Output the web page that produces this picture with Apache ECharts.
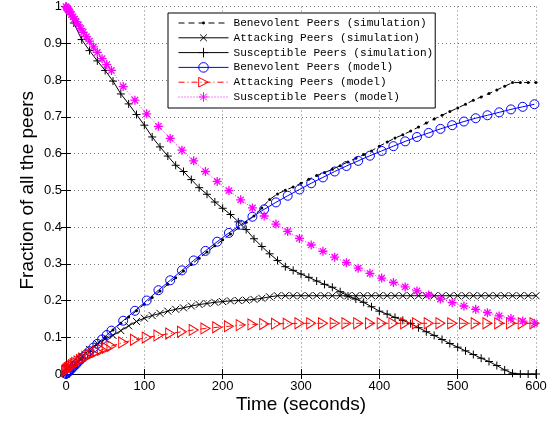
<!DOCTYPE html>
<html>
<head>
<meta charset="utf-8">
<script src="https://cdn.jsdelivr.net/npm/echarts@6/dist/echarts.min.js"></script>
<style>html,body{margin:0;padding:0;background:#fff;}#c{width:556px;height:424px;}</style>
</head>
<body>
<div id="c"></div>
<script>
// ---- data ----
const simTime = [0,10,20,30,40,50,60,70,80,90,100,110,120,130,140,150,160,170,180,190,200,210,220,230,240,250,260,270,280,290,300,310,320,330,340,350,360,370,380,390,400,410,420,430,440,450,460,470,480,490,500,510,520,530,540,550,560,570,580,590,600];
const benevSim = [0,0.02,0.04,0.06,0.08,0.10,0.12,0.138,0.155,0.172,0.19,0.208,0.226,0.244,0.262,0.28,0.298,0.315,0.332,0.349,0.365,0.381,0.397,0.413,0.43,0.452,0.475,0.49,0.50,0.509,0.519,0.53,0.54,0.548,0.557,0.567,0.577,0.587,0.597,0.607,0.62,0.631,0.642,0.651,0.661,0.672,0.683,0.694,0.704,0.714,0.724,0.734,0.745,0.754,0.763,0.773,0.783,0.793,0.793,0.793,0.793];
const attackSim = [0,0.025,0.047,0.067,0.083,0.095,0.105,0.118,0.131,0.143,0.152,0.159,0.165,0.171,0.176,0.18,0.185,0.189,0.192,0.195,0.197,0.199,0.2,0.201,0.203,0.206,0.21,0.213,0.213,0.213,0.213,0.213,0.213,0.213,0.213,0.213,0.213,0.213,0.213,0.213,0.213,0.213,0.213,0.213,0.213,0.213,0.213,0.213,0.213,0.213,0.213,0.213,0.213,0.213,0.213,0.213,0.213,0.213,0.213,0.213,0.213];
const suscSim = [1.0,0.955,0.91,0.88,0.852,0.826,0.797,0.762,0.735,0.706,0.677,0.645,0.618,0.593,0.568,0.551,0.529,0.507,0.489,0.468,0.451,0.434,0.414,0.393,0.368,0.347,0.327,0.309,0.292,0.282,0.272,0.263,0.253,0.244,0.236,0.224,0.212,0.204,0.195,0.183,0.171,0.163,0.154,0.146,0.137,0.126,0.115,0.105,0.094,0.083,0.073,0.063,0.053,0.043,0.034,0.023,0.011,0.002,0,0,0];

const modelTime = [0,1,2,3,4,5,7,9,11,13,16,19,22,26,30,35,40,46,52,58,73,88,103,118,133,148,163,178,193,208,223,238,253,268,283,298,313,328,343,358,373,388,403,418,433,448,463,478,493,508,523,538,553,568,583,598];
const benevModel = [0,0.002,0.004,0.006,0.008,0.010,0.014,0.019,0.023,0.027,0.034,0.040,0.046,0.054,0.062,0.072,0.082,0.094,0.106,0.118,0.145,0.172,0.200,0.228,0.255,0.282,0.309,0.335,0.360,0.384,0.406,0.428,0.448,0.467,0.485,0.502,0.519,0.535,0.551,0.566,0.580,0.594,0.607,0.620,0.633,0.645,0.656,0.667,0.677,0.687,0.696,0.704,0.712,0.720,0.727,0.734];
const attackModel = [0.008,0.010,0.012,0.014,0.016,0.018,0.021,0.024,0.027,0.030,0.034,0.038,0.042,0.047,0.051,0.056,0.061,0.066,0.071,0.076,0.086,0.093,0.099,0.105,0.110,0.115,0.120,0.124,0.127,0.130,0.133,0.135,0.136,0.137,0.137,0.138,0.138,0.138,0.138,0.138,0.138,0.138,0.138,0.138,0.138,0.138,0.138,0.138,0.138,0.138,0.138,0.138,0.138,0.138,0.138,0.138];
const suscModel = [1.000,0.997,0.994,0.991,0.988,0.985,0.978,0.972,0.966,0.959,0.950,0.940,0.930,0.918,0.906,0.890,0.875,0.858,0.842,0.826,0.782,0.745,0.708,0.674,0.641,0.609,0.580,0.551,0.524,0.499,0.474,0.452,0.430,0.408,0.388,0.369,0.351,0.334,0.318,0.303,0.288,0.274,0.261,0.249,0.237,0.226,0.215,0.204,0.194,0.185,0.176,0.167,0.158,0.151,0.144,0.138];

const seriesNames = ['Benevolent Peers (simulation)','Attacking Peers (simulation)','Susceptible Peers (simulation)','Benevolent Peers (model)','Attacking Peers (model)','Susceptible Peers (model)'];
const xTicks = [0,100,200,300,400,500,600];

function zip(xs, ys){ return xs.map((x,i)=>[x, ys[i]]); }

// marker shapes (outer moveTo points fix the box so the glyph keeps its proportion)
const SYM_DOT = 'path://M0,0M10,10M6.5,5A1.5,1.5,0,1,1,3.5,5A1.5,1.5,0,1,1,6.5,5Z';
const SYM_X = 'path://M0,0M10,10M1.5,1.5L8.5,8.5M8.5,1.5L1.5,8.5';
const SYM_PLUS = 'path://M5,0L5,10M0,5L10,5';
const SYM_TRI = 'path://M0,0L10,5L0,10Z';
const SYM_STAR = 'path://M5,0L5,10M0,5L10,5M1.5,1.5L8.5,8.5M8.5,1.5L1.5,8.5';
const SYM_CIRC = 'path://M10,5A5,5,0,1,1,0,5A5,5,0,1,1,10,5Z';

const chart = echarts.init(document.getElementById('c'), null, {renderer:'canvas'});
const tickFont = {color:'#000', fontSize:13, fontFamily:'Liberation Sans, Arial, sans-serif'};
chart.setOption({
  animation:false,
  backgroundColor:'#fff',
  grid:{left:66, right:20, top:6, bottom:50, show:false},
  legend:{
    orient:'vertical', left:168, top:13,
    padding:[4,2,5,10], itemGap:2.8, itemWidth:50, itemHeight:12,
    backgroundColor:'#fff', borderColor:'#000', borderWidth:1, borderRadius:0,
    textStyle:{fontFamily:'Liberation Mono, monospace', fontSize:11.1, color:'#000', lineHeight:12},
    lineStyle:{width:1}, itemStyle:{borderWidth:1},
    data:seriesNames
  },
  xAxis:[{
    type:'value', min:0, max:600, interval:100,
    name:'Time (seconds)', nameLocation:'middle', nameGap:21, nameMoveOverlap:false,
    nameTextStyle:{color:'#000', fontSize:19, fontFamily:'Liberation Sans, Arial, sans-serif'},
    axisLine:{lineStyle:{color:'#000', width:1}},
    axisTick:{inside:true, length:5, lineStyle:{color:'#000'}},
    axisLabel:Object.assign({margin:6}, tickFont),
    splitLine:{show:true, lineStyle:{color:'#777', type:[1,3], width:1}}
  },{
    type:'value', min:0, max:600, interval:100, position:'top',
    axisLine:{lineStyle:{color:'#000', width:1}},
    axisTick:{inside:true, length:5, lineStyle:{color:'#000'}},
    axisLabel:{show:false}, splitLine:{show:false}
  }],
  yAxis:[{
    type:'value', min:0, max:1, interval:0.1,
    name:'Fraction of all the peers', nameLocation:'middle', nameGap:29, nameMoveOverlap:false,
    nameTextStyle:{color:'#000', fontSize:19, fontFamily:'Liberation Sans, Arial, sans-serif'},
    axisLine:{show:true, lineStyle:{color:'#000', width:1}},
    axisTick:{show:true, inside:true, length:5, lineStyle:{color:'#000'}},
    axisLabel:Object.assign({margin:4}, tickFont),
    splitLine:{show:true, lineStyle:{color:'#777', type:[1,3], width:1}}
  },{
    type:'value', min:0, max:1, interval:0.1, position:'right',
    axisLine:{show:true, lineStyle:{color:'#000', width:1}},
    axisTick:{show:true, inside:true, length:5, lineStyle:{color:'#000'}},
    axisLabel:{show:false}, splitLine:{show:false}
  }],
  series:[
    {name:seriesNames[0], type:'line', data:zip(simTime, benevSim), symbol:SYM_DOT, symbolSize:10,
      itemStyle:{color:'#000'}, lineStyle:{color:'#000', width:1, type:[6,4]}},
    {name:seriesNames[1], type:'line', data:zip(simTime, attackSim), symbol:SYM_X, symbolSize:10,
      itemStyle:{color:'rgba(0,0,0,0)', borderColor:'#000', borderWidth:1}, lineStyle:{color:'#000', width:1}},
    {name:seriesNames[2], type:'line', data:zip(simTime, suscSim), symbol:SYM_PLUS, symbolSize:8,
      itemStyle:{color:'rgba(0,0,0,0)', borderColor:'#000', borderWidth:1}, lineStyle:{color:'#000', width:1}},
    {name:seriesNames[3], type:'line', data:zip(modelTime, benevModel), symbol:SYM_CIRC, symbolSize:9,
      itemStyle:{color:'rgba(0,0,0,0)', borderColor:'#0000ff', borderWidth:1}, lineStyle:{color:'#0000ff', width:1}},
    {name:seriesNames[4], type:'line', data:zip(modelTime, attackModel), symbol:SYM_TRI, symbolSize:[9,11],
      itemStyle:{color:'rgba(0,0,0,0)', borderColor:'#ff0000', borderWidth:1}, lineStyle:{color:'#ff0000', width:1, type:[6,3,1,3]}},
    {name:seriesNames[5], type:'line', data:zip(modelTime, suscModel), symbol:SYM_STAR, symbolSize:9,
      itemStyle:{color:'rgba(0,0,0,0)', borderColor:'#ff00ff', borderWidth:1.3}, lineStyle:{color:'#ff00ff', width:1, type:[1,2]}}
  ]
});
</script>
</body>
</html>
